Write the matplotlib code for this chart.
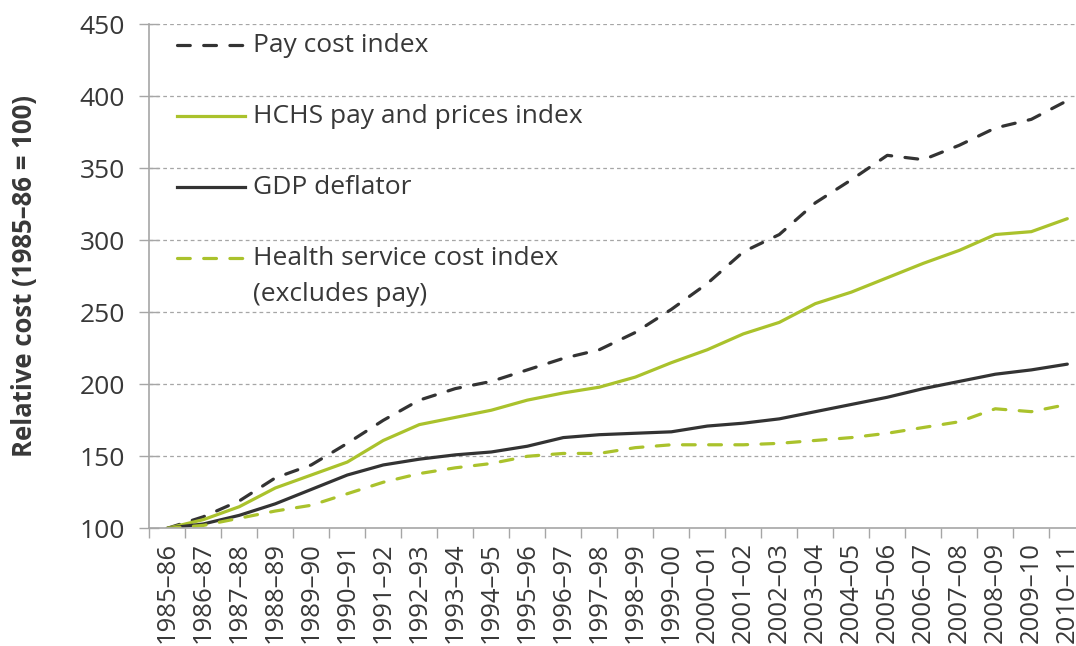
import matplotlib
matplotlib.use("Agg")
import matplotlib.pyplot as plt

# =====================================================
# DATA
# =====================================================
years = [
    "1985–86", "1986–87", "1987–88", "1988–89", "1989–90", "1990–91",
    "1991–92", "1992–93", "1993–94", "1994–95", "1995–96", "1996–97",
    "1997–98", "1998–99", "1999–00", "2000–01", "2001–02", "2002–03",
    "2003–04", "2004–05", "2005–06", "2006–07", "2007–08", "2008–09",
    "2009–10", "2010–11",
]

pay_cost = [100, 108, 119, 135, 144, 159, 175, 189, 197, 202, 210, 218, 224,
            236, 252, 270, 292, 304, 326, 342, 359, 356, 366, 378, 384, 397]
hchs = [100, 106, 115, 128, 137, 146, 161, 172, 177, 182, 189, 194, 198,
        205, 215, 224, 235, 243, 256, 264, 274, 284, 293, 304, 306, 315]
gdp = [100, 103, 109, 117, 127, 137, 144, 148, 151, 153, 157, 163, 165,
       166, 167, 171, 173, 176, 181, 186, 191, 197, 202, 207, 210, 214]
health = [100, 102, 107, 112, 116, 124, 132, 138, 142, 145, 150, 152, 152,
          156, 158, 158, 158, 159, 161, 163, 166, 170, 174, 183, 181, 186]

y_ticks = [100, 150, 200, 250, 300, 350, 400, 450]

# =====================================================
# STYLE
# =====================================================
GREEN = "#aac22c"
DARK = "#333333"
GREY = "#a6a6a6"
TEXT = "#383838"
FS = 19

plt.rcParams["font.family"] = ["Open Sans", "DejaVu Sans"]
plt.rcParams["text.color"] = TEXT

fig = plt.figure(figsize=(10.76, 6.46), dpi=100)
# axes runs a little past the right edge, like the cropped original
ax = fig.add_axes([149.3 / 1076, 117.7 / 646, 936 / 1076, 504 / 646])

x = list(range(len(years)))
dash = (4, 4.2)

ax.plot(x, pay_cost, color=DARK, lw=2.3, dashes=dash, dash_capstyle="round")
ax.plot(x, hchs, color=GREEN, lw=2.3, solid_capstyle="round")
ax.plot(x, gdp, color=DARK, lw=2.3, solid_capstyle="round")
ax.plot(x, health, color=GREEN, lw=2.3, dashes=dash, dash_capstyle="round")

# =====================================================
# AXES
# =====================================================
ax.set_xlim(-0.5, len(years) - 0.5)
ax.set_ylim(100, 450)

ax.set_yticks(y_ticks)
ax.tick_params(axis="y", direction="inout", length=14, width=1, color=GREY,
               labelsize=FS, labelcolor=TEXT, pad=10.5)

ax.set_xticks(x)
ax.set_xticklabels(years, rotation=90, fontsize=18.5, color=TEXT)
ax.tick_params(axis="x", which="major", length=0, pad=10)
ax.set_xticks([i - 0.5 for i in x], minor=True)
ax.tick_params(axis="x", which="minor", direction="out", length=7, width=1,
               color=GREY)

for s in ["top", "right"]:
    ax.spines[s].set_visible(False)
for s in ["left", "bottom"]:
    ax.spines[s].set_color(GREY)
    ax.spines[s].set_linewidth(1.2)

for v in y_ticks[1:]:
    ax.axhline(v, color=GREY, lw=0.9, dashes=(3, 2.5), zorder=0)

ax.set_ylabel("Relative cost (1985–86 = 100)", fontsize=18.5,
              fontweight="bold", color=TEXT)
ax.yaxis.set_label_coords((38 - 149.3) / 936, 0.5)

# =====================================================
# LEGEND (drawn by hand so the two-line label keeps its handle on line one)
# =====================================================
entries = [
    (["Pay cost index"], DARK, dash),
    (["HCHS pay and prices index"], GREEN, None),
    (["GDP deflator"], DARK, None),
    (["Health service cost index", "(excludes pay)"], GREEN, dash),
]
x0, x1, xt = (177 - 149.3) / 936, (245 - 149.3) / 936, (253 - 149.3) / 936
for k, (lines, col, ds) in enumerate(entries):
    yy = (528.3 - (45 + 71 * k)) / 504
    kw = dict(dashes=ds, dash_capstyle="round") if ds else {}
    ax.plot([x0, x1], [yy, yy], color=col, lw=2.3, transform=ax.transAxes,
            clip_on=False, **kw)
    for j, line in enumerate(lines):
        yb = (528.3 - (52 + 71 * k + 36 * j)) / 504
        ax.text(xt, yb, line, transform=ax.transAxes, fontsize=FS,
                va="baseline", ha="left", color=TEXT)

fig.savefig("out.png", dpi=100)
